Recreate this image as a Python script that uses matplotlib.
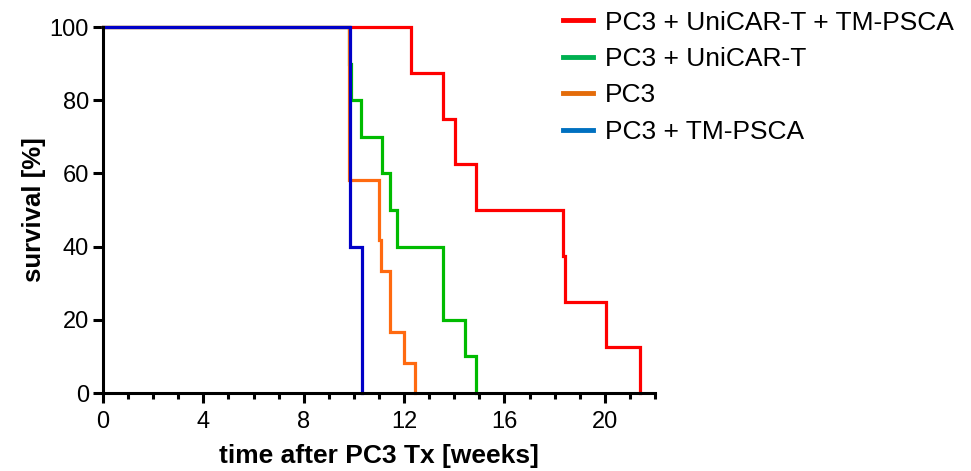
import matplotlib
matplotlib.use("Agg")
import matplotlib.pyplot as plt
from matplotlib.lines import Line2D
from matplotlib.ticker import MultipleLocator

plt.rcParams['font.family'] = ['Liberation Sans', 'DejaVu Sans']

labels = ["PC3 + UniCAR-T + TM-PSCA", "PC3 + UniCAR-T", "PC3", "PC3 + TM-PSCA"]

red_t = [0, 12.28, 13.57, 14.04, 14.88, 18.32, 18.4, 20.04, 21.4]
red_s = [100, 87.5, 75, 62.5, 50, 37.5, 25, 12.5, 0]

green_t = [0, 9.8, 9.88, 10.3, 11.1, 11.44, 11.7, 13.56, 14.44, 14.85]
green_s = [100, 90, 80, 70, 60, 50, 40, 20, 10, 0]

orange_t = [0, 9.8, 11.0, 11.08, 11.44, 12.0, 12.44]
orange_s = [100, 58.3, 41.7, 33.3, 16.7, 8.3, 0]

blue_t = [0, 9.86, 10.32]
blue_s = [100, 40, 0]

plot_colors = ["#FF0000", "#00BB00", "#FF6A10", "#0000C8"]
legend_colors = ["#FF0000", "#00B050", "#E46C0A", "#0070C0"]

fig = plt.figure(figsize=(9.71, 4.71), dpi=100)
ax = fig.add_axes([103/971, 1-393/471, (655-103)/971, (393-27)/471])

series = [(red_t, red_s), (green_t, green_s), (orange_t, orange_s), (blue_t, blue_s)]
for (t, s), c in zip(series, plot_colors):
    ax.step(t, s, where='post', color=c, lw=2.3, clip_on=False, solid_joinstyle='miter')

ax.set_xlim(0, 22)
ax.set_ylim(0, 100)
ax.xaxis.set_major_locator(MultipleLocator(4))
ax.xaxis.set_minor_locator(MultipleLocator(1))
ax.yaxis.set_major_locator(MultipleLocator(20))
for s in ['top', 'right']:
    ax.spines[s].set_visible(False)
for s in ['left', 'bottom']:
    ax.spines[s].set_linewidth(2.2)
ax.tick_params(axis='both', which='major', direction='out', length=7, width=2.2, labelsize=17)
ax.tick_params(axis='x', which='major', pad=6)
ax.tick_params(axis='y', which='major', pad=3)
ax.tick_params(axis='x', which='minor', direction='out', length=4.5, width=2.2)

ax.set_xlabel("time after PC3 Tx [weeks]", fontsize=19, fontweight='bold', labelpad=8)
ax.set_ylabel("survival [%]", fontsize=18.5, fontweight='bold', labelpad=3)

handles = [Line2D([0], [0], color=c, lw=3.5) for c in legend_colors]
fig.legend(handles, labels, loc='upper left', bbox_to_anchor=(552/971, 1.0),
           frameon=False, fontsize=19, handlelength=1.15, handletextpad=0.45,
           labelspacing=0.47, borderaxespad=0.0)

fig.savefig("out.png", dpi=100)
